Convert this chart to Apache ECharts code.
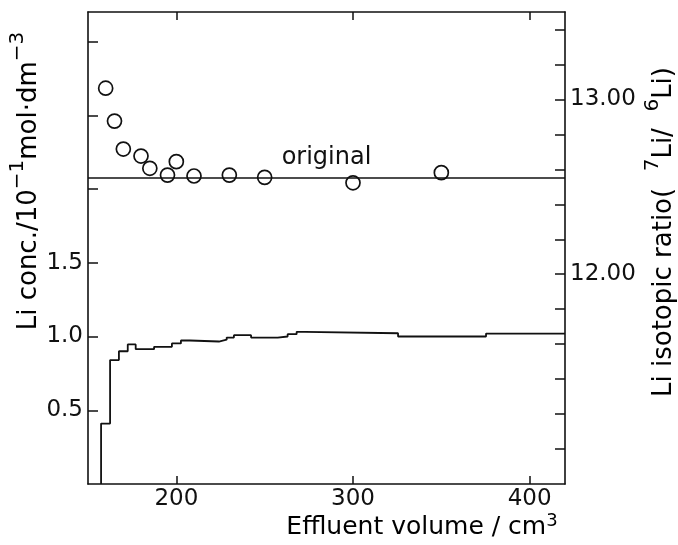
<!DOCTYPE html>
<html>
<head>
<meta charset="utf-8">
<script src="https://cdn.jsdelivr.net/npm/echarts@6/dist/echarts.min.js"></script>
<style>
  html, body { margin: 0; padding: 0; background: #fff; }
  #chart { width: 678px; height: 545px; }
</style>
</head>
<body>
<div id="chart"></div>
<script>
// Ступенчатая кривая концентрации Li (начало фракции, cm3 -> 10^-1 mol dm^-3)
const concVolume = [157.4, 157.4, 162.5, 167.5, 172.5, 177.0, 187.4, 197.5, 202.6, 207.7, 224.1, 228.5, 232.6, 242.3, 257.4, 263.0, 268.1, 272.8, 325.5, 375.3, 420]
const concValue = [0, 0.41, 0.84, 0.90, 0.946, 0.914, 0.93, 0.953, 0.973, 0.966, 0.978, 0.993, 1.009, 0.993, 1.0, 1.016, 1.032, 1.022, 1.0, 1.02, 1.02]

// Изотопное отношение 7Li/6Li (кружки)
const ratioVolume = [160, 165, 170, 180, 185, 195, 200, 210, 230, 250, 300, 350]
const ratioValue = [13.064, 12.876, 12.716, 12.676, 12.606, 12.567, 12.644, 12.562, 12.567, 12.554, 12.523, 12.581]

const originalRatio = 12.55

const xTicks = [200, 300, 400]
const leftTicks = [0.5, 1.0, 1.5, 2.0, 2.5, 3.0]
const leftLabels = [0.5, 1.0, 1.5]
const rightTicks = [11.0, 11.2, 11.4, 11.6, 11.8, 12.0, 12.2, 12.4, 12.6, 12.8, 13.0, 13.2, 13.4]
const rightLabels = [12.0, 13.0]

const FONT = 'DejaVu Sans'
const INK = '#111'

const chart = echarts.init(document.getElementById('chart'), null, { renderer: 'canvas' })

const line = { show: true, lineStyle: { color: INK, width: 1.6 } }
const tickStyle = { color: INK, width: 1.5 }

// подписи осей с верхними индексами
const supRich = {
  m: { fontFamily: FONT, fontSize: 26, color: INK, lineHeight: 42 },
  s: { fontFamily: FONT, fontSize: 20, color: INK, lineHeight: 10, verticalAlign: 'top' },
}
const xRich = {
  m: { fontFamily: FONT, fontSize: 25, color: INK, lineHeight: 30 },
  s: { fontFamily: FONT, fontSize: 18, color: INK, lineHeight: 12, verticalAlign: 'top' },
}

chart.setOption({
  animation: false,
  backgroundColor: '#fff',
  grid: { left: 88, right: 113, top: 12, bottom: 61 },
  xAxis: [
    {
      type: 'value', position: 'bottom', min: 150, max: 420,
      axisLine: line,
      axisTick: { show: true, inside: true, length: 8, customValues: xTicks, lineStyle: tickStyle },
      axisLabel: { show: true, customValues: xTicks, margin: 4, fontFamily: FONT, fontSize: 23, color: INK },
      splitLine: { show: false },
    },
    {
      type: 'value', position: 'top', min: 150, max: 420,
      axisLine: line,
      axisTick: { show: true, inside: true, length: 8, customValues: xTicks, lineStyle: tickStyle },
      axisLabel: { show: false },
      splitLine: { show: false },
    },
  ],
  yAxis: [
    {
      type: 'value', position: 'left', min: 0, max: 3.2,
      axisLine: line,
      axisTick: { show: true, inside: true, length: 10, customValues: leftTicks, lineStyle: tickStyle },
      axisLabel: {
        show: true, customValues: leftLabels, margin: 5,
        fontFamily: FONT, fontSize: 23, color: INK,
        formatter: (v) => v.toFixed(1),
      },
      splitLine: { show: false },
    },
    {
      type: 'value', position: 'right', min: 10.8, max: 13.5,
      axisLine: line,
      axisTick: { show: true, inside: true, length: 10, customValues: rightTicks, lineStyle: tickStyle },
      axisLabel: {
        show: true, customValues: rightLabels, margin: 5,
        fontFamily: FONT, fontSize: 23, color: INK,
        formatter: (v) => v.toFixed(2),
      },
      splitLine: { show: false },
    },
  ],
  series: [
    {
      type: 'line',
      xAxisIndex: 0, yAxisIndex: 0,
      step: 'end',
      showSymbol: false,
      data: concVolume.map((v, i) => [v, concValue[i]]),
      lineStyle: { color: INK, width: 1.8 },
    },
    {
      type: 'scatter',
      xAxisIndex: 0, yAxisIndex: 1,
      symbol: 'circle',
      symbolSize: 14,
      data: ratioVolume.map((v, i) => [v, ratioValue[i]]),
      itemStyle: { color: '#fff', borderColor: INK, borderWidth: 1.7, opacity: 1 },
      z: 3,
      markLine: {
        silent: true,
        symbol: ['none', 'none'],
        data: [{ yAxis: originalRatio }],
        lineStyle: { color: INK, width: 1.6, type: 'solid' },
        label: {
          show: true, position: 'insideMiddleTop', formatter: 'original',
          fontFamily: FONT, fontSize: 24, color: INK, distance: 8,
        },
      },
    },
  ],
  graphic: [
    {
      // подпись левой оси, читается снизу вверх
      type: 'text', x: 29, y: 181, rotation: Math.PI / 2,
      style: {
        text: '{m|Li conc./10}{s|−1}{m|mol·dm}{s|−3}',
        rich: supRich, align: 'center', verticalAlign: 'middle',
      },
    },
    {
      type: 'text', x: 664, y: 232, rotation: Math.PI / 2,
      style: {
        text: '{m|Li isotopic ratio(  }{s|7}{m|Li/  }{s|6}{m|Li)}',
        rich: supRich, align: 'center', verticalAlign: 'middle',
      },
    },
    {
      type: 'text', x: 422, y: 527,
      style: {
        text: '{m|Effluent volume / cm}{s|3}',
        rich: xRich, align: 'center', verticalAlign: 'middle',
      },
    },
  ],
})
</script>
</body>
</html>
